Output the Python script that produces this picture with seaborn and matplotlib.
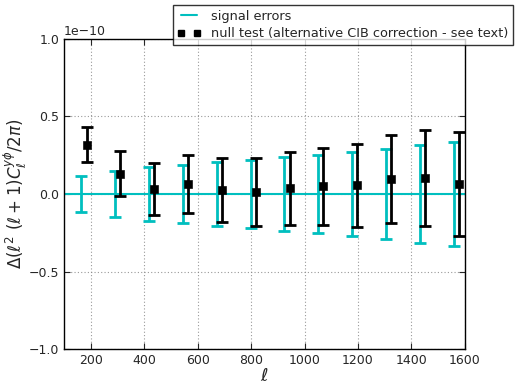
import numpy as np
import matplotlib
matplotlib.use("Agg")
import matplotlib.pyplot as plt
import seaborn as sns
from matplotlib.lines import Line2D

# bins in ell
ell_null = [185, 311, 438, 564, 691, 817, 944, 1070, 1197, 1323, 1450, 1577]
ell_signal = [164, 291, 419, 546, 672, 798, 924, 1050, 1177, 1305, 1432, 1558]

# signal errors (x 1e-10)
signal_err = [0.119, 0.150, 0.171, 0.189, 0.209, 0.220, 0.237, 0.252, 0.270, 0.288, 0.314, 0.334]

# null test (x 1e-10)
null_val = [0.318, 0.131, 0.030, 0.067, 0.026, 0.011, 0.037, 0.049, 0.056, 0.097, 0.103, 0.065]
null_err = [0.113, 0.145, 0.168, 0.187, 0.205, 0.220, 0.234, 0.250, 0.268, 0.286, 0.311, 0.333]

sns.set_style("ticks")
plt.rcParams['font.family'] = ['DejaVu Sans']
plt.rcParams['mathtext.fontset'] = 'dejavusans'

fig = plt.figure(figsize=(5.17, 3.88), dpi=100)
ax = fig.add_axes([0.124, 0.1005, 0.775, 0.799])

scale = 1e-10
sig = np.array(signal_err) * scale
nv = np.array(null_val) * scale
ne = np.array(null_err) * scale

cyan = (0.0, 0.75, 0.75)

# zero line for signal errors
sns.lineplot(x=[100, 1600], y=[0, 0], color=cyan, lw=1.5, ax=ax, zorder=2)
ax.errorbar(ell_signal, np.zeros(len(ell_signal)), yerr=sig, fmt='none',
            ecolor=cyan, elinewidth=2, capsize=4.5, capthick=2, zorder=3)
ax.errorbar(ell_null, nv, yerr=ne, fmt='none',
            ecolor='black', elinewidth=2, capsize=4.5, capthick=2, zorder=4)
sns.scatterplot(x=ell_null, y=nv, marker='s', color='black', s=30,
                edgecolor='black', ax=ax, zorder=5)

ax.set_xlim(100, 1600)
ax.set_ylim(-1e-10, 1e-10)
ax.set_xticks([200, 400, 600, 800, 1000, 1200, 1400, 1600])
ax.set_yticks([-1e-10, -0.5e-10, 0, 0.5e-10, 1e-10])
ax.grid(True, color='gray', linestyle=(0, (1, 2)), linewidth=0.8, alpha=0.8)
ax.tick_params(direction='in', top=True, right=True, labelsize=9, length=4)
for s in ax.spines.values():
    s.set_linewidth(1)
    s.set_color('black')
ax.yaxis.get_offset_text().set_fontsize(9)

ax.set_xlabel(r'$\ell$', fontsize=13, labelpad=0)
ax.set_ylabel(r'$\Delta(\ell^2\ (\ell+1) C_\ell^{y\phi}/2\pi)$', fontsize=12)
ax.yaxis.set_label_coords(-0.087, 0.5)

handles = [
    Line2D([], [], color=cyan, lw=1.5),
    Line2D([], [], color='black', marker='s', ls='none', markersize=5),
]
leg = fig.legend(handles, ['signal errors', 'null test (alternative CIB correction - see text)'],
                 loc='upper right', bbox_to_anchor=(0.992, 0.987), fontsize=9.3,
                 numpoints=2, frameon=True, fancybox=False, borderpad=0.35,
                 labelspacing=0.35, handletextpad=0.8, handlelength=1.8,
                 borderaxespad=0)
leg.get_frame().set_edgecolor('black')
leg.get_frame().set_linewidth(1)

fig.savefig('out.png', dpi=100)
